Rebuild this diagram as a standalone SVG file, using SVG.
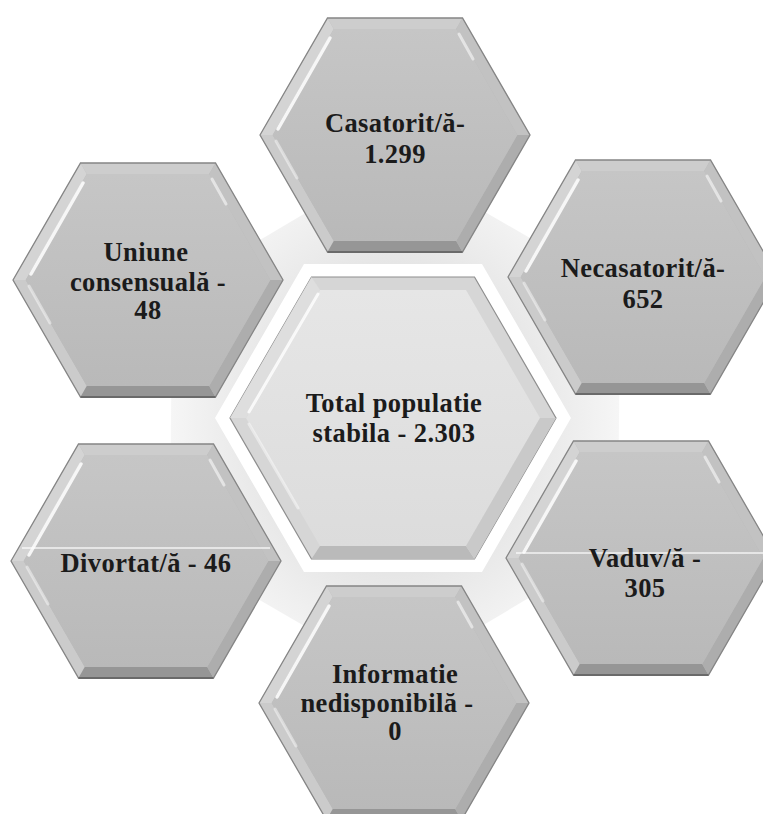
<svg xmlns="http://www.w3.org/2000/svg" xmlns:xlink="http://www.w3.org/1999/xlink" width="763" height="814" viewBox="0 0 763 814">
<defs>
<style>
.lbl{font-family:"Liberation Serif","DejaVu Serif",serif;font-weight:bold;font-size:26.5px;letter-spacing:0.4px;fill:#1b1b1b;text-anchor:middle}
.edge{fill:none;stroke:#858585;stroke-width:1.3}
</style>
<linearGradient id="gIn" x1="0" y1="0" x2="0" y2="1">
<stop offset="0" stop-color="#c6c6c6"/>
<stop offset="1" stop-color="#b9b9b9"/>
</linearGradient>
<linearGradient id="gCin" x1="0" y1="0" x2="0" y2="1">
<stop offset="0" stop-color="#e6e6e6"/>
<stop offset="1" stop-color="#dcdcdc"/>
</linearGradient>
<radialGradient id="gBg" cx="0.5" cy="0.5" r="0.5">
<stop offset="0.55" stop-color="#e4e4e4"/>
<stop offset="1" stop-color="#f6f6f6"/>
</radialGradient>
<g id="hx">
<polygon points="-135,0 -67.5,-117 67.5,-117 135,0 67.5,117 -67.5,117" fill="#b8b8b8"/>
<polygon points="-67.5,-117 67.5,-117 61.2,-106 -61.2,-106" fill="#cdcdcd"/>
<polygon points="-135,0 -67.5,-117 -61.2,-106 -122.3,0" fill="#d4d4d4"/>
<polygon points="-135,0 -122.3,0 -61.2,106 -67.5,117" fill="#cbcbcb"/>
<polygon points="-67.5,117 -61.2,106 61.2,106 67.5,117" fill="#969696"/>
<polygon points="67.5,117 61.2,106 122.3,0 135,0" fill="#adadad"/>
<polygon points="135,0 122.3,0 61.2,-106 67.5,-117" fill="#c2c2c2"/>
<polygon points="-122.3,0 -61.2,-106 61.2,-106 122.3,0 61.2,106 -61.2,106" fill="url(#gIn)"/>
<polyline points="-117,-6 -65,-97" fill="none" stroke="#fff" stroke-opacity="0.85" stroke-width="3.5" stroke-linecap="round"/>
<polyline points="-119,6 -98,43" fill="none" stroke="#fff" stroke-opacity="0.45" stroke-width="3" stroke-linecap="round"/>
<polyline points="64,-101 78,-76" fill="none" stroke="#fff" stroke-opacity="0.55" stroke-width="3" stroke-linecap="round"/>
<polygon class="edge" points="-135,0 -67.5,-117 67.5,-117 135,0 67.5,117 -67.5,117"/>
<line x1="-67.5" y1="117" x2="67.5" y2="117" stroke="#6a6a6a" stroke-width="2.2"/>
</g>
</defs>
<rect width="763" height="814" fill="#ffffff"/>
<g id="background">
<polygon points="395,160 620,290 618,545 394,678 170,548 172,292" fill="url(#gBg)"/>
<polygon points="230,418 311.5,277 474.5,277 556,418 474.5,559 311.5,559" fill="none" stroke="#ffffff" stroke-width="26" stroke-linejoin="miter"/>
</g>
<g id="node-total">
<polygon points="230,418 311.5,277 474.5,277 556,418 474.5,559 311.5,559" fill="#d6d6d6" stroke="#8e8e8e" stroke-width="1.2"/>
<polygon points="246,418 320,290 466,290 540,418 466,546 320,546" fill="url(#gCin)"/>
<polygon points="230,418 311.5,277 320,290 246,418" fill="#dedede"/>
<polygon points="311.5,559 320,546 466,546 474.5,559" fill="#bababa"/>
<polygon points="474.5,559 466,546 540,418 556,418" fill="#c9c9c9"/>
<polyline points="249,412 318,294" fill="none" stroke="#fff" stroke-opacity="0.8" stroke-width="3" stroke-linecap="round"/>
<polyline points="249,424 298,508" fill="none" stroke="#fff" stroke-opacity="0.45" stroke-width="3" stroke-linecap="round"/>
<text class="lbl" x="394" y="412">Total populatie</text>
<text class="lbl" x="394" y="442">stabila - 2.303</text>
</g>
<g id="node-casatorit">
<use xlink:href="#hx" transform="translate(395,135)"/>
<text class="lbl" x="395" y="132">Casatorit/ă-</text>
<text class="lbl" x="395" y="163">1.299</text>
</g>
<g id="node-uniune">
<use xlink:href="#hx" transform="translate(148,280)"/>
<text class="lbl" x="146" y="261">Uniune</text>
<text class="lbl" x="148" y="291">consensuală -</text>
<text class="lbl" x="148" y="319">48</text>
</g>
<g id="node-necasatorit">
<use xlink:href="#hx" transform="translate(643,277)"/>
<text class="lbl" x="643" y="277">Necasatorit/ă-</text>
<text class="lbl" x="643" y="308">652</text>
</g>
<g id="node-divortat">
<use xlink:href="#hx" transform="translate(146,561)"/>
<line x1="22" y1="548" x2="270" y2="548" stroke="#fff" stroke-opacity="0.6" stroke-width="2"/>
<text class="lbl" x="146" y="572">Divortat/ă - 46</text>
</g>
<g id="node-vaduv">
<use xlink:href="#hx" transform="translate(641,558)"/>
<line x1="516" y1="553" x2="763" y2="553" stroke="#fff" stroke-opacity="0.6" stroke-width="2"/>
<text class="lbl" x="645" y="567">Vaduv/ă -</text>
<text class="lbl" x="645" y="597">305</text>
</g>
<g id="node-informatie">
<use xlink:href="#hx" transform="translate(394,703)"/>
<text class="lbl" x="395" y="683">Informatie</text>
<text class="lbl" x="387" y="712">nedisponibilă -</text>
<text class="lbl" x="395" y="740">0</text>
</g>
</svg>
